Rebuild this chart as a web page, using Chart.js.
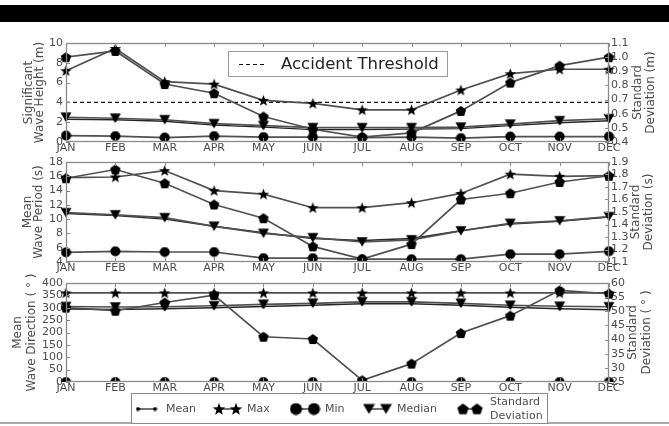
<!DOCTYPE html>
<html>
<head>
<meta charset="utf-8">
<script src="https://cdn.jsdelivr.net/npm/chart.js@4.4.0/dist/chart.umd.min.js"></script>
<style>
  html, body { margin: 0; padding: 0; background: #fff; }
  #wrap { position: relative; width: 669px; height: 426px; overflow: hidden; background: #fff; }
  #topbar { position: absolute; left: 0; top: 5px; width: 669px; height: 17px; background: #000; }
  #rule { position: absolute; left: 0; top: 422px; width: 669px; height: 2px; background: #a8a8a8; }
  .pane { position: absolute; left: 0; width: 669px; }
  .pane canvas { display: block; }
</style>
</head>
<body>
<div id="wrap">
  <div id="topbar"></div>
  <div id="rule"></div>
  <div class="pane" style="top:30px;height:130px"><canvas id="c1" width="669" height="130"></canvas></div>
  <div class="pane" style="top:150px;height:130px"><canvas id="c2" width="669" height="130"></canvas></div>
  <div class="pane" style="top:270px;height:156px"><canvas id="c3" width="669" height="156"></canvas></div>
</div>
<script>
// ---- monthly statistics -------------------------------------------------
const months = ['JAN','FEB','MAR','APR','MAY','JUN','JUL','AUG','SEP','OCT','NOV','DEC'];

// Significant wave height (m); standard deviation on the right axis (m)
const hsMean   = [2.3, 2.25, 2.1, 1.7, 1.5, 1.25, 1.25, 1.3, 1.35, 1.65, 1.95, 2.15];
const hsMax    = [7.2, 9.45, 6.1, 5.85, 4.2, 3.9, 3.25, 3.25, 5.25, 6.9, 7.35, 7.35];
const hsMin    = [0.65, 0.6, 0.45, 0.6, 0.5, 0.5, 0.45, 0.5, 0.4, 0.55, 0.55, 0.55];
const hsMedian = [2.5, 2.4, 2.25, 1.85, 1.65, 1.45, 1.45, 1.45, 1.5, 1.8, 2.15, 2.35];
const hsStd    = [1.0, 1.044, 0.81, 0.745, 0.58, 0.49, 0.435, 0.465, 0.62, 0.82, 0.94, 1.0];
const hsThreshold = 4;

// Mean wave period (s); standard deviation on the right axis (s)
const tmMean   = [10.8, 10.5, 10.0, 9.0, 8.1, 7.3, 7.0, 7.3, 8.4, 9.3, 9.7, 10.3];
const tmMax    = [15.8, 15.9, 16.8, 14.0, 13.5, 11.6, 11.6, 12.3, 13.6, 16.3, 16.0, 16.1];
const tmMin    = [5.35, 5.5, 5.4, 5.4, 4.55, 4.55, 4.4, 4.4, 4.4, 5.1, 5.1, 5.5];
const tmMedian = [10.9, 10.6, 10.2, 9.0, 8.0, 7.4, 6.8, 7.1, 8.35, 9.4, 9.75, 10.35];
const tmStd    = [1.77, 1.84, 1.73, 1.56, 1.45, 1.225, 1.123, 1.243, 1.6, 1.65, 1.74, 1.79];

// Mean wave direction (deg); standard deviation on the right axis (deg)
const dirMean   = [295, 293, 296, 300, 305, 310, 316, 316, 310, 302, 296, 292];
const dirMax    = [360, 360, 360, 360, 360, 360, 360, 360, 360, 360, 360, 360];
const dirMin    = [0, 0, 0, 0, 0, 0, 0, 0, 0, 0, 0, 0];
const dirMedian = [305, 303, 304, 308, 314, 318, 324, 324, 318, 310, 306, 304];
const dirStd    = [51.3, 50.2, 53.1, 55.7, 41.0, 40.2, 25.6, 31.5, 42.3, 48.45, 57.4, 56.2];

// axis ticks
const hsTicks     = [0, 2, 4, 6, 8, 10];
const hsStdTicks  = [0.4, 0.5, 0.6, 0.7, 0.8, 0.9, 1.0, 1.1];
const tmTicks     = [4, 6, 8, 10, 12, 14, 16, 18];
const tmStdTicks  = [1.1, 1.2, 1.3, 1.4, 1.5, 1.6, 1.7, 1.8, 1.9];
const dirTicks    = [0, 50, 100, 150, 200, 250, 300, 350, 400];
const dirStdTicks = [25, 30, 35, 40, 45, 50, 55, 60];

// ---- drawing helpers ----------------------------------------------------
const FONT = "'DejaVu Sans', 'Liberation Sans', sans-serif";
const TEXT = '#4d4d4d';
const LINE = '#505050';
Chart.defaults.font.family = FONT;

function makeMarker(kind, size) {
  const c = document.createElement('canvas');
  c.width = size; c.height = size;
  const g = c.getContext('2d');
  const cx = size / 2, cy = size / 2, r = size / 2 - 0.5;
  g.fillStyle = '#000';
  g.beginPath();
  if (kind === 'star') {
    for (let i = 0; i < 10; i++) {
      const a = -Math.PI / 2 + i * Math.PI / 5;
      const rr = i % 2 ? r * 0.42 : r;
      const px = cx + rr * Math.cos(a), py = cy + rr * Math.sin(a) + r * 0.08;
      i ? g.lineTo(px, py) : g.moveTo(px, py);
    }
  } else if (kind === 'pentagon') {
    for (let i = 0; i < 5; i++) {
      const a = -Math.PI / 2 + i * 2 * Math.PI / 5;
      const px = cx + r * Math.cos(a), py = cy + r * Math.sin(a) + r * 0.08;
      i ? g.lineTo(px, py) : g.moveTo(px, py);
    }
  } else if (kind === 'tri') {
    g.moveTo(cx - r, cy - r * 0.85);
    g.lineTo(cx + r, cy - r * 0.85);
    g.lineTo(cx, cy + r * 0.85);
  } else {
    g.arc(cx, cy, r, 0, Math.PI * 2);
  }
  g.closePath();
  g.fill();
  return c;
}

const mk = {
  star: makeMarker('star', 13),
  pentagon: makeMarker('pentagon', 12),
  tri: makeMarker('tri', 12),
  circle: makeMarker('circle', 11),
  dot: makeMarker('dot', 4)
};
const lg = {
  star: makeMarker('star', 14),
  pentagon: makeMarker('pentagon', 13),
  tri: makeMarker('tri', 13),
  circle: makeMarker('circle', 13),
  dot: makeMarker('dot', 5)
};

function series(label, data, marker, axis, order, lineColor, lineWidth) {
  return {
    label, data, yAxisID: axis, order,
    borderColor: lineColor || LINE,
    borderWidth: lineWidth || 1.7,
    pointStyle: mk[marker],
    pointRadius: 5,
    pointHoverRadius: 5,
    tension: 0,
    fill: false
  };
}

function decorPlugin(cfg) {
  return {
    id: 'decor',
    afterDraw(chart) {
      const ctx = chart.ctx, a = chart.chartArea;
      const xs = chart.scales.x, yl = chart.scales.y, yr = chart.scales.y2;
      ctx.save();
      // inward tick marks
      ctx.strokeStyle = '#8a8a8a';
      ctx.lineWidth = 1;
      ctx.beginPath();
      months.forEach((m, i) => {
        const px = Math.round(xs.getPixelForValue(i)) + 0.5;
        ctx.moveTo(px, a.bottom); ctx.lineTo(px, a.bottom - 4);
        ctx.moveTo(px, a.top); ctx.lineTo(px, a.top + 4);
      });
      cfg.leftTicks.forEach(v => {
        const py = Math.round(yl.getPixelForValue(v)) + 0.5;
        ctx.moveTo(a.left, py); ctx.lineTo(a.left + 4, py);
      });
      cfg.rightTicks.forEach(v => {
        const py = Math.round(yr.getPixelForValue(v)) + 0.5;
        ctx.moveTo(a.right, py); ctx.lineTo(a.right - 4, py);
      });
      ctx.stroke();
      // frame
      ctx.lineWidth = 1.3;
      ctx.strokeRect(a.left + 0.5, a.top + 0.5, a.right - a.left - 1, a.bottom - a.top - 1);

      // axis titles
      const cy = (a.top + a.bottom) / 2;
      ctx.fillStyle = TEXT;
      ctx.font = '12px ' + FONT;
      ctx.textAlign = 'center';
      ctx.textBaseline = 'middle';
      const rot = (txt, x) => {
        ctx.save(); ctx.translate(x, cy); ctx.rotate(-Math.PI / 2);
        ctx.fillText(txt, 0, 0); ctx.restore();
      };
      cfg.leftTitle.forEach((t, i) => rot(t, cfg.leftX[i]));
      cfg.rightTitle.forEach((t, i) => rot(t, cfg.rightX[i]));

      if (cfg.extra) cfg.extra(ctx, chart);
      ctx.restore();
    }
  };
}

function buildPanel(id, cfg) {
  new Chart(document.getElementById(id), {
    type: 'line',
    data: { labels: months, datasets: cfg.datasets },
    options: {
      responsive: false,
      animation: false,
      devicePixelRatio: 1,
      events: [],
      layout: { padding: { top: cfg.padTop, left: 0, right: 0, bottom: 0 } },
      plugins: { legend: { display: false }, tooltip: { enabled: false } },
      scales: {
        x: {
          type: 'category', offset: false,
          grid: { display: false, drawTicks: false }, border: { display: false },
          ticks: { autoSkip: false, maxRotation: 0, minRotation: 0, padding: 0,
                   color: TEXT, font: { size: 11, family: FONT } },
          afterFit: s => { s.height = cfg.xHeight; }
        },
        y: {
          position: 'left', min: cfg.leftMin, max: cfg.leftMax,
          grid: { display: false, drawTicks: false }, border: { display: false },
          ticks: { autoSkip: false, padding: 3, color: TEXT, font: { size: 11, family: FONT },
                   callback: v => String(v) },
          afterBuildTicks: s => { s.ticks = cfg.leftTicks.map(v => ({ value: v })); },
          afterFit: s => { s.width = 66; }
        },
        y2: {
          position: 'right', min: cfg.rightMin, max: cfg.rightMax,
          grid: { display: false, drawTicks: false }, border: { display: false },
          ticks: { autoSkip: false, padding: 2, color: TEXT, font: { size: 11, family: FONT },
                   callback: cfg.rightFmt },
          afterBuildTicks: s => { s.ticks = cfg.rightTicks.map(v => ({ value: v })); },
          afterFit: s => { s.width = 60; }
        }
      }
    },
    plugins: [decorPlugin(cfg)]
  });
}

function statSets(mean, max, min, median, std) {
  return [
    series('Standard Deviation', std, 'pentagon', 'y2', 0),
    series('Median', median, 'tri', 'y', 1),
    series('Min', min, 'circle', 'y', 2),
    series('Max', max, 'star', 'y', 3),
    series('Mean', mean, 'dot', 'y', 4, '#262626', 1.4)
  ];
}

// ---- panel 1: significant wave height -----------------------------------
const p1Sets = statSets(hsMean, hsMax, hsMin, hsMedian, hsStd);
p1Sets.push({
  label: 'Accident Threshold', data: months.map(() => hsThreshold), yAxisID: 'y', order: 5,
  borderColor: '#111', borderWidth: 1.2, borderDash: [4, 3], pointRadius: 0, tension: 0, fill: false
});
buildPanel('c1', {
  datasets: p1Sets, padTop: 13, xHeight: 18,
  leftMin: 0, leftMax: 10, leftTicks: hsTicks,
  rightMin: 0.4, rightMax: 1.1, rightTicks: hsStdTicks, rightFmt: v => v.toFixed(1),
  leftTitle: ['Significant', 'Wave Height (m)'], leftX: [29, 40],
  rightTitle: ['Standard', 'Deviation (m)'], rightX: [638, 651],
  extra(ctx) {
    // threshold legend
    ctx.fillStyle = '#fff';
    ctx.fillRect(228, 21, 220, 26);
    ctx.strokeStyle = '#9a9a9a';
    ctx.lineWidth = 1;
    ctx.strokeRect(228.5, 21.5, 219, 25);
    ctx.strokeStyle = '#111';
    ctx.lineWidth = 1.2;
    ctx.setLineDash([4, 3]);
    ctx.beginPath(); ctx.moveTo(239, 34.5); ctx.lineTo(264, 34.5); ctx.stroke();
    ctx.setLineDash([]);
    ctx.fillStyle = '#222';
    ctx.font = '16.5px ' + FONT;
    ctx.textAlign = 'left';
    ctx.textBaseline = 'middle';
    ctx.fillText('Accident Threshold', 281, 35);
  }
});

// ---- panel 2: mean wave period ------------------------------------------
buildPanel('c2', {
  datasets: statSets(tmMean, tmMax, tmMin, tmMedian, tmStd), padTop: 12, xHeight: 18,
  leftMin: 4, leftMax: 18, leftTicks: tmTicks,
  rightMin: 1.1, rightMax: 1.9, rightTicks: tmStdTicks, rightFmt: v => v.toFixed(1),
  leftTitle: ['Mean', 'Wave Period (s)'], leftX: [28, 39],
  rightTitle: ['Standard', 'Deviation (s)'], rightX: [636, 649]
});

// ---- panel 3: mean wave direction + shared legend ----------------------
const legendItems = [
  { kind: 'dot', x1: 138, x2: 155, text: ['Mean'], tx: 166 },
  { kind: 'star', x1: 219, x2: 236, text: ['Max'], tx: 247 },
  { kind: 'circle', x1: 296, x2: 314, text: ['Min'], tx: 325 },
  { kind: 'tri', x1: 369, x2: 386, text: ['Median'], tx: 397 },
  { kind: 'pentagon', x1: 463, x2: 477, text: ['Standard', 'Deviation'], tx: 490 }
];
buildPanel('c3', {
  datasets: statSets(dirMean, dirMax, dirMin, dirMedian, dirStd), padTop: 13, xHeight: 44,
  leftMin: 0, leftMax: 400, leftTicks: dirTicks,
  rightMin: 25, rightMax: 60, rightTicks: dirStdTicks, rightFmt: v => String(v),
  leftTitle: ['Mean', 'Wave Direction ( \u00b0 )'], leftX: [18, 32],
  rightTitle: ['Standard', 'Deviation ( \u00b0 )'], rightX: [633, 647],
  extra(ctx) {
    const top = 123, h = 31, left = 131, w = 417, cy = top + 16;
    ctx.fillStyle = '#fff';
    ctx.fillRect(left, top, w, h);
    ctx.strokeStyle = '#8a8a8a';
    ctx.lineWidth = 1;
    ctx.strokeRect(left + 0.5, top + 0.5, w - 1, h - 1);
    ctx.font = '11px ' + FONT;
    ctx.textAlign = 'left';
    ctx.textBaseline = 'middle';
    legendItems.forEach(it => {
      ctx.strokeStyle = '#262626';
      ctx.lineWidth = 1.3;
      ctx.beginPath(); ctx.moveTo(it.x1, cy); ctx.lineTo(it.x2, cy); ctx.stroke();
      const img = lg[it.kind];
      [it.x1, it.x2].forEach(x => ctx.drawImage(img, x - img.width / 2, cy - img.height / 2));
      ctx.fillStyle = TEXT;
      if (it.text.length === 1) {
        ctx.fillText(it.text[0], it.tx, cy);
      } else {
        ctx.fillText(it.text[0], it.tx, cy - 7);
        ctx.fillText(it.text[1], it.tx, cy + 7);
      }
    });
  }
});
</script>
</body>
</html>
